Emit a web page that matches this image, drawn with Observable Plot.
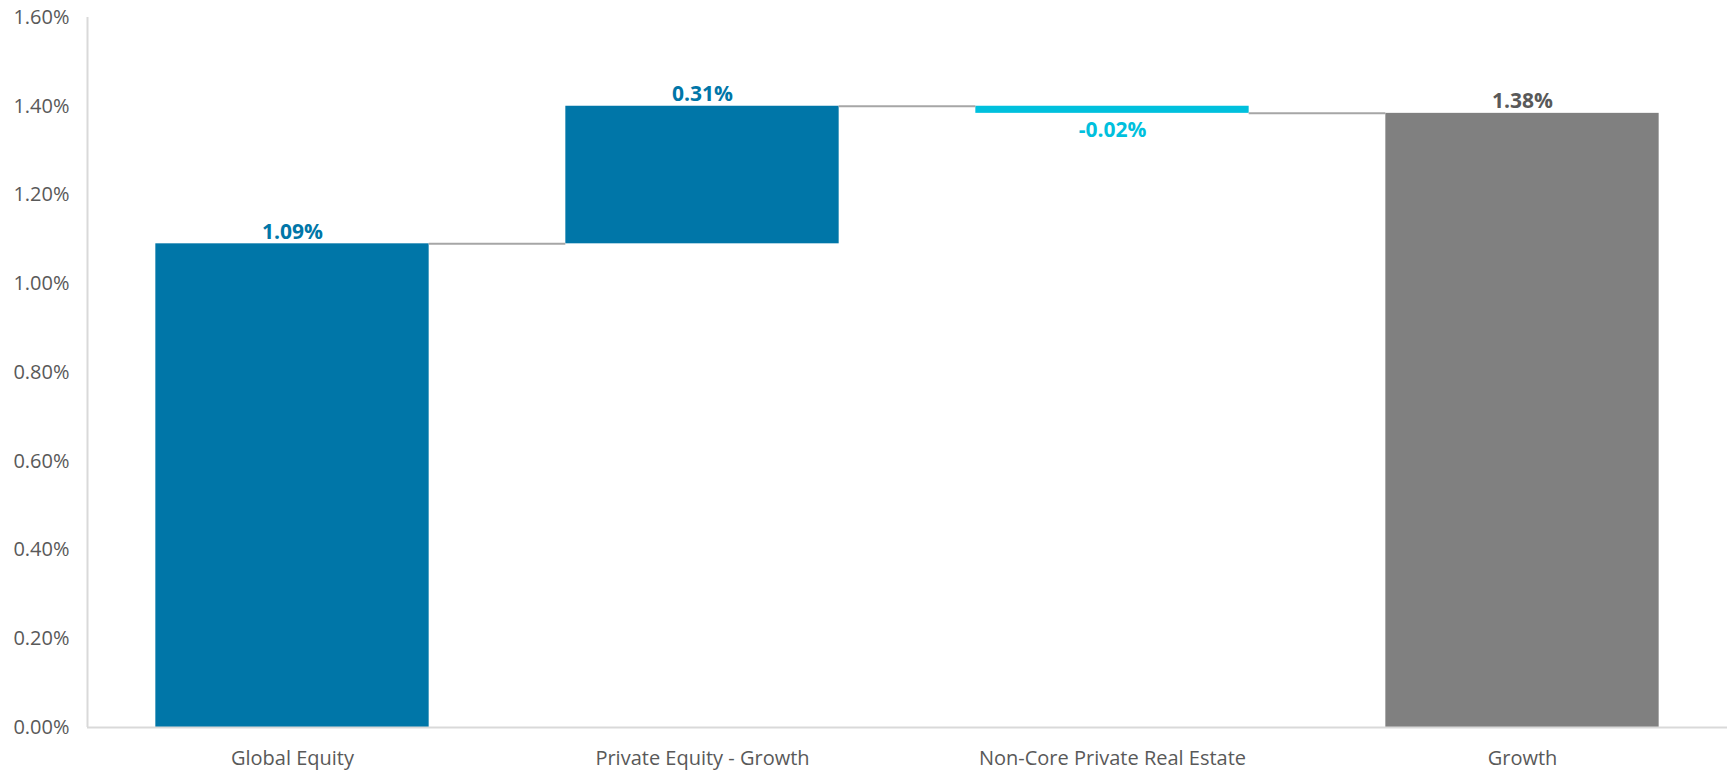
<!DOCTYPE html>
<html>
<head>
<meta charset="utf-8">
<script src="https://cdn.jsdelivr.net/npm/d3@7"></script>
<script src="https://cdn.jsdelivr.net/npm/@observablehq/plot@0.6"></script>
<style>
  html, body { margin: 0; padding: 0; background: #ffffff; }
  #chart svg { display: block; }
</style>
</head>
<body>
<div id="chart"></div>
<script>
// ---- data ----
const categories = ["Global Equity", "Private Equity - Growth", "Non-Core Private Real Estate", "Growth"];
const values = [1.09, 0.31, -0.016, 1.384];
const isTotal = [false, false, false, true];
const yTicks = [0, 0.2, 0.4, 0.6, 0.8, 1.0, 1.2, 1.4, 1.6];

// ---- build waterfall rows ----
const pad = 1 / 6;
let run = 0;
const rows = categories.map((name, i) => {
  let start, end;
  if (isTotal[i]) { start = 0; end = values[i]; run = values[i]; }
  else { start = run; end = run + values[i]; run = end; }
  const kind = isTotal[i] ? "total" : (values[i] >= 0 ? "up" : "down");
  return { i, name, value: values[i], start, end, lo: Math.min(start, end), hi: Math.max(start, end), kind };
});
const connectors = rows.slice(0, -1).map((r, i) => ({ x1: r.i + 1 - pad, x2: rows[i + 1].i + pad, y: r.end }));

const fillOf = { up: "#0076A8", down: "#00C0DD", total: "#808080" };
const textOf = { up: "#0076A8", down: "#00C0DD", total: "#595959" };
const fmt = v => v.toFixed(2) + "%";

const chart = Plot.plot({
  width: 1730,
  height: 771,
  marginLeft: 87,
  marginRight: 3,
  marginTop: 17,
  marginBottom: 44,
  style: { fontFamily: "'Open Sans', sans-serif", color: "#595959", background: "#ffffff" },
  x: { domain: [0, 4], axis: null },
  y: { domain: [0, 1.6], axis: null },
  marks: [
    Plot.axisY({ ticks: yTicks, tickFormat: d => d.toFixed(2) + "%", tickSize: 0, tickPadding: 18, fontSize: 20, fill: "#595959" }),
    Plot.axisX({ ticks: [0.5, 1.5, 2.5, 3.5], tickFormat: d => categories[Math.floor(d)], tickSize: 0, tickPadding: 23, fontSize: 20, fill: "#595959" }),
    Plot.ruleX([0], { stroke: "#d9d9d9", strokeWidth: 2 }),
    Plot.rectY(rows, { x1: d => d.i + pad, x2: d => d.i + 1 - pad, y1: "start", y2: "end", fill: d => fillOf[d.kind] }),
    Plot.ruleY([0], { stroke: "#d9d9d9", strokeWidth: 2 }),
    Plot.ruleY(connectors, { x1: "x1", x2: "x2", y: "y", stroke: "#a6a6a6", strokeWidth: 2 }),
    Plot.text(rows.filter(d => d.kind !== "down"), {
      x: d => d.i + 0.5, y: "hi", text: d => fmt(d.value), lineAnchor: "bottom", dy: -5,
      fill: d => textOf[d.kind], fontSize: 21, fontWeight: "bold"
    }),
    Plot.text(rows.filter(d => d.kind === "down"), {
      x: d => d.i + 0.5, y: "lo", text: d => fmt(d.value), lineAnchor: "top", dy: 9,
      fill: d => textOf[d.kind], fontSize: 21, fontWeight: "bold"
    })
  ]
});
document.getElementById("chart").appendChild(chart);
</script>
</body>
</html>
